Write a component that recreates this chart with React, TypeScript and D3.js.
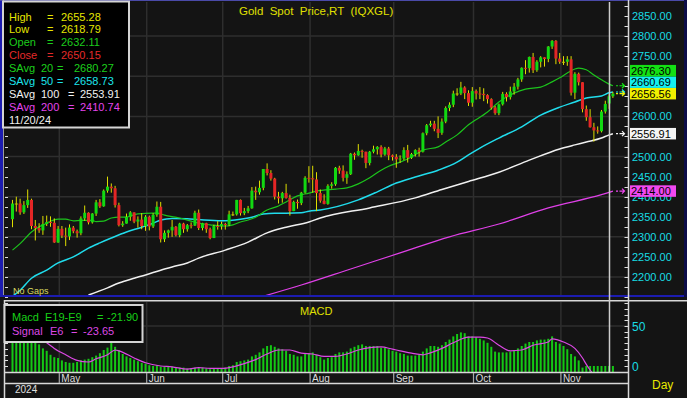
import React, { useEffect, useRef } from "react";
import * as d3 from "d3";

const W = 687;
const H = 398;

// date, open, high, low, close
const bars: [string, number, number, number, number][] = [
  ["2024-04-15", 2344, 2392, 2324, 2383], ["2024-04-16", 2383, 2400, 2363, 2383], ["2024-04-17", 2383, 2395, 2355, 2361],
  ["2024-04-18", 2361, 2389, 2357, 2379], ["2024-04-19", 2379, 2418, 2372, 2392], ["2024-04-22", 2392, 2395, 2319, 2327],
  ["2024-04-23", 2327, 2342, 2291, 2322], ["2024-04-24", 2322, 2334, 2310, 2316], ["2024-04-25", 2316, 2352, 2305, 2332],
  ["2024-04-26", 2332, 2353, 2327, 2337], ["2024-04-29", 2337, 2351, 2325, 2335], ["2024-04-30", 2335, 2346, 2285, 2286],
  ["2024-05-01", 2286, 2327, 2285, 2320], ["2024-05-02", 2320, 2327, 2297, 2303], ["2024-05-03", 2303, 2323, 2277, 2301],
  ["2024-05-06", 2301, 2331, 2292, 2323], ["2024-05-07", 2323, 2327, 2309, 2314], ["2024-05-08", 2314, 2318, 2298, 2309],
  ["2024-05-09", 2309, 2351, 2304, 2346], ["2024-05-10", 2346, 2378, 2340, 2360], ["2024-05-13", 2360, 2361, 2331, 2336],
  ["2024-05-14", 2336, 2359, 2333, 2358], ["2024-05-15", 2358, 2392, 2352, 2386], ["2024-05-16", 2386, 2394, 2372, 2376],
  ["2024-05-17", 2376, 2418, 2375, 2415], ["2024-05-20", 2415, 2450, 2410, 2425], ["2024-05-21", 2425, 2433, 2410, 2421],
  ["2024-05-22", 2421, 2427, 2373, 2379], ["2024-05-23", 2379, 2385, 2326, 2329], ["2024-05-24", 2329, 2339, 2325, 2333],
  ["2024-05-27", 2333, 2358, 2333, 2350], ["2024-05-28", 2350, 2364, 2340, 2361], ["2024-05-29", 2361, 2361, 2334, 2338],
  ["2024-05-30", 2338, 2351, 2323, 2343], ["2024-05-31", 2343, 2359, 2319, 2327], ["2024-06-03", 2327, 2354, 2315, 2350],
  ["2024-06-04", 2350, 2353, 2316, 2326], ["2024-06-05", 2326, 2359, 2322, 2355], ["2024-06-06", 2355, 2388, 2350, 2375],
  ["2024-06-07", 2375, 2387, 2286, 2294], ["2024-06-10", 2294, 2316, 2287, 2310], ["2024-06-11", 2310, 2318, 2298, 2316],
  ["2024-06-12", 2316, 2342, 2300, 2325], ["2024-06-13", 2325, 2327, 2301, 2304], ["2024-06-14", 2304, 2335, 2299, 2333],
  ["2024-06-17", 2333, 2335, 2310, 2319], ["2024-06-18", 2319, 2332, 2313, 2329], ["2024-06-19", 2329, 2336, 2321, 2328],
  ["2024-06-20", 2328, 2365, 2327, 2360], ["2024-06-21", 2360, 2368, 2317, 2322], ["2024-06-24", 2322, 2335, 2316, 2334],
  ["2024-06-25", 2334, 2335, 2310, 2319], ["2024-06-26", 2319, 2323, 2294, 2297], ["2024-06-27", 2297, 2330, 2297, 2327],
  ["2024-06-28", 2327, 2339, 2318, 2326], ["2024-07-01", 2326, 2338, 2318, 2332], ["2024-07-02", 2332, 2335, 2318, 2330],
  ["2024-07-03", 2330, 2365, 2327, 2356], ["2024-07-04", 2356, 2363, 2352, 2356], ["2024-07-05", 2356, 2392, 2353, 2392],
  ["2024-07-08", 2392, 2393, 2353, 2359], ["2024-07-09", 2359, 2372, 2354, 2364], ["2024-07-10", 2364, 2377, 2359, 2371],
  ["2024-07-11", 2371, 2424, 2370, 2415], ["2024-07-12", 2415, 2425, 2392, 2411], ["2024-07-15", 2411, 2440, 2405, 2422],
  ["2024-07-16", 2422, 2469, 2416, 2469], ["2024-07-17", 2469, 2483, 2453, 2459], ["2024-07-18", 2459, 2466, 2440, 2445],
  ["2024-07-19", 2445, 2447, 2393, 2400], ["2024-07-22", 2400, 2412, 2383, 2396], ["2024-07-23", 2396, 2412, 2385, 2409],
  ["2024-07-24", 2409, 2432, 2395, 2397], ["2024-07-25", 2397, 2405, 2353, 2364], ["2024-07-26", 2364, 2390, 2364, 2387],
  ["2024-07-29", 2387, 2393, 2370, 2384], ["2024-07-30", 2384, 2412, 2379, 2410], ["2024-07-31", 2410, 2451, 2408, 2447],
  ["2024-08-01", 2447, 2476, 2435, 2446], ["2024-08-02", 2446, 2477, 2410, 2443], ["2024-08-05", 2443, 2461, 2364, 2409],
  ["2024-08-06", 2409, 2418, 2385, 2390], ["2024-08-07", 2390, 2406, 2381, 2382], ["2024-08-08", 2382, 2431, 2380, 2427],
  ["2024-08-09", 2427, 2436, 2420, 2431], ["2024-08-12", 2431, 2474, 2427, 2472], ["2024-08-13", 2472, 2477, 2457, 2465],
  ["2024-08-14", 2465, 2478, 2438, 2447], ["2024-08-15", 2447, 2463, 2432, 2456], ["2024-08-16", 2456, 2509, 2454, 2507],
  ["2024-08-19", 2507, 2510, 2492, 2503], ["2024-08-20", 2503, 2531, 2502, 2514], ["2024-08-21", 2514, 2517, 2497, 2512],
  ["2024-08-22", 2512, 2512, 2471, 2484], ["2024-08-23", 2484, 2514, 2478, 2512], ["2024-08-26", 2512, 2527, 2508, 2518],
  ["2024-08-27", 2518, 2526, 2505, 2524], ["2024-08-28", 2524, 2528, 2498, 2505], ["2024-08-29", 2505, 2524, 2502, 2520],
  ["2024-08-30", 2520, 2524, 2491, 2503], ["2024-09-02", 2503, 2505, 2490, 2499], ["2024-09-03", 2499, 2506, 2472, 2493],
  ["2024-09-04", 2493, 2503, 2484, 2495], ["2024-09-05", 2495, 2523, 2491, 2516], ["2024-09-06", 2516, 2529, 2485, 2497],
  ["2024-09-09", 2497, 2509, 2494, 2506], ["2024-09-10", 2506, 2518, 2500, 2516], ["2024-09-11", 2516, 2522, 2500, 2512],
  ["2024-09-12", 2512, 2560, 2510, 2558], ["2024-09-13", 2558, 2581, 2553, 2578], ["2024-09-16", 2578, 2589, 2574, 2582],
  ["2024-09-17", 2582, 2589, 2563, 2569], ["2024-09-18", 2569, 2600, 2546, 2559], ["2024-09-19", 2559, 2595, 2554, 2587],
  ["2024-09-20", 2587, 2625, 2583, 2621], ["2024-09-23", 2621, 2635, 2613, 2629], ["2024-09-24", 2629, 2664, 2623, 2657],
  ["2024-09-25", 2657, 2670, 2651, 2657], ["2024-09-26", 2657, 2686, 2653, 2672], ["2024-09-27", 2672, 2675, 2643, 2658],
  ["2024-09-30", 2658, 2665, 2626, 2634], ["2024-10-01", 2634, 2673, 2624, 2663], ["2024-10-02", 2663, 2667, 2642, 2657],
  ["2024-10-03", 2657, 2673, 2643, 2656], ["2024-10-04", 2656, 2670, 2638, 2653], ["2024-10-07", 2653, 2655, 2632, 2643],
  ["2024-10-08", 2643, 2645, 2617, 2622], ["2024-10-09", 2622, 2626, 2604, 2608], ["2024-10-10", 2608, 2632, 2603, 2630],
  ["2024-10-11", 2630, 2661, 2627, 2656], ["2024-10-14", 2656, 2660, 2637, 2648], ["2024-10-15", 2648, 2674, 2642, 2662],
  ["2024-10-16", 2662, 2683, 2654, 2674], ["2024-10-17", 2674, 2696, 2667, 2692], ["2024-10-18", 2692, 2722, 2686, 2721],
  ["2024-10-21", 2721, 2740, 2705, 2720], ["2024-10-22", 2720, 2749, 2709, 2748], ["2024-10-23", 2748, 2758, 2708, 2715],
  ["2024-10-24", 2715, 2740, 2711, 2736], ["2024-10-25", 2736, 2750, 2722, 2747], ["2024-10-28", 2747, 2747, 2724, 2743],
  ["2024-10-29", 2743, 2775, 2735, 2774], ["2024-10-30", 2774, 2790, 2768, 2788], ["2024-10-31", 2788, 2790, 2730, 2744],
  ["2024-11-01", 2744, 2758, 2731, 2736], ["2024-11-04", 2736, 2750, 2728, 2736], ["2024-11-05", 2736, 2750, 2726, 2742],
  ["2024-11-06", 2742, 2750, 2652, 2659], ["2024-11-07", 2659, 2710, 2643, 2706], ["2024-11-08", 2706, 2709, 2677, 2685],
  ["2024-11-11", 2685, 2685, 2610, 2618], ["2024-11-12", 2618, 2627, 2589, 2598], ["2024-11-13", 2598, 2618, 2572, 2573],
  ["2024-11-14", 2573, 2584, 2537, 2565], ["2024-11-15", 2565, 2575, 2557, 2563], ["2024-11-18", 2563, 2616, 2560, 2612],
  ["2024-11-19", 2612, 2639, 2607, 2631], ["2024-11-20", 2632.11, 2655.28, 2618.79, 2650.15], ["2024-11-21", 2650.15, 2661, 2646, 2656.56],
];

// macd histogram, one value per bar
const macd = [
  50, 48, 46, 44, 42, 38, 32, 27, 22, 19,
  14, 11, 10, 7, 5, 4, 4, 5, 7, 8,
  9, 11, 13, 16, 20, 23, 29, 24, 20, 15,
  12, 10, 8, 6, 4, 3, 1, 0, 1, -1,
  -1, -1, -1, -2, -2, -2, -3, -3, -2, -2,
  -2, -3, -4, -3, -3, -3, -2, 0, 1, 5,
  6, 7, 8, 12, 14, 17, 22, 25, 26, 24,
  22, 21, 19, 15, 14, 12, 12, 15, 16, 17,
  14, 11, 8, 10, 11, 15, 17, 17, 18, 22,
  24, 26, 27, 25, 25, 25, 25, 23, 23, 21,
  19, 18, 16, 15, 13, 13, 13, 14, 18, 22,
  25, 25, 24, 26, 30, 33, 37, 40, 42, 41,
  37, 37, 36, 34, 32, 29, 24, 18, 17, 17,
  17, 18, 20, 22, 25, 28, 30, 30, 32, 33,
  33, 34, 37, 30, 28, 25, 21, 15, 12, 7,
  -2, -12, -22, -30, -32, -31, -27, -21.9, -19,
];

const signal: [string, number][] = [
  ["2024-04-15", 46], ["2024-04-19", 42], ["2024-04-24", 34], ["2024-04-26", 29], ["2024-04-30", 22], ["2024-05-03", 14],
  ["2024-05-08", 7], ["2024-05-13", 5], ["2024-05-15", 9], ["2024-05-20", 14], ["2024-05-22", 20], ["2024-05-23", 19],
  ["2024-05-29", 10], ["2024-06-03", 4], ["2024-06-07", 0], ["2024-06-12", -1], ["2024-06-18", -4], ["2024-06-21", -2],
  ["2024-06-26", -3], ["2024-07-01", -3], ["2024-07-04", -1], ["2024-07-09", 3], ["2024-07-12", 8], ["2024-07-17", 15],
  ["2024-07-22", 20], ["2024-07-25", 20], ["2024-07-30", 16], ["2024-08-02", 15], ["2024-08-07", 12], ["2024-08-12", 12],
  ["2024-08-15", 15], ["2024-08-20", 20], ["2024-08-23", 23], ["2024-08-28", 24], ["2024-09-02", 21], ["2024-09-04", 19],
  ["2024-09-09", 16], ["2024-09-12", 14], ["2024-09-13", 15], ["2024-09-19", 22], ["2024-09-24", 29], ["2024-09-30", 36],
  ["2024-10-03", 36], ["2024-10-07", 35], ["2024-10-10", 26], ["2024-10-15", 19], ["2024-10-18", 20], ["2024-10-23", 26],
  ["2024-10-29", 30], ["2024-10-30", 34], ["2024-11-04", 30], ["2024-11-07", 22], ["2024-11-11", 10], ["2024-11-12", 2],
  ["2024-11-13", -5], ["2024-11-14", -11], ["2024-11-15", -16], ["2024-11-18", -20], ["2024-11-19", -22], ["2024-11-20", -23.65],
  ["2024-11-21", -23],
];

const sma20: [string, number][] = [
  ["2024-04-15", 2267], ["2024-04-17", 2283], ["2024-04-22", 2312], ["2024-04-24", 2325], ["2024-04-26", 2334], ["2024-04-29", 2339],
  ["2024-05-01", 2344], ["2024-05-03", 2344], ["2024-05-07", 2340], ["2024-05-09", 2341], ["2024-05-14", 2341], ["2024-05-15", 2338],
  ["2024-05-17", 2339], ["2024-05-21", 2347], ["2024-05-23", 2349], ["2024-05-27", 2349], ["2024-05-28", 2352], ["2024-05-30", 2357],
  ["2024-06-05", 2359], ["2024-06-06", 2359], ["2024-06-10", 2354], ["2024-06-14", 2347], ["2024-06-19", 2339], ["2024-06-21", 2334],
  ["2024-06-26", 2330], ["2024-07-01", 2327], ["2024-07-02", 2327], ["2024-07-04", 2330], ["2024-07-08", 2337], ["2024-07-10", 2342],
  ["2024-07-12", 2349], ["2024-07-17", 2367], ["2024-07-22", 2377], ["2024-07-24", 2387], ["2024-07-29", 2402], ["2024-08-01", 2409],
  ["2024-08-05", 2414], ["2024-08-12", 2419], ["2024-08-15", 2422], ["2024-08-20", 2432], ["2024-08-23", 2447], ["2024-08-28", 2466],
  ["2024-08-30", 2476], ["2024-09-04", 2486], ["2024-09-09", 2499], ["2024-09-12", 2516], ["2024-09-18", 2524], ["2024-09-20", 2536],
  ["2024-09-25", 2554], ["2024-09-30", 2579], ["2024-10-07", 2611], ["2024-10-10", 2636], ["2024-10-16", 2658], ["2024-10-21", 2668],
  ["2024-10-25", 2673], ["2024-10-30", 2686], ["2024-11-01", 2696], ["2024-11-05", 2708], ["2024-11-07", 2718], ["2024-11-08", 2720],
  ["2024-11-12", 2716], ["2024-11-14", 2703], ["2024-11-18", 2691], ["2024-11-20", 2680.27], ["2024-11-21", 2676.3],
];

const sma50: [string, number][] = [
  ["2024-04-15", 2152], ["2024-04-17", 2167], ["2024-04-22", 2197], ["2024-04-26", 2217], ["2024-05-01", 2235], ["2024-05-07", 2250],
  ["2024-05-13", 2272], ["2024-05-16", 2285], ["2024-05-21", 2297], ["2024-05-27", 2312], ["2024-05-31", 2324], ["2024-06-05", 2334],
  ["2024-06-07", 2342], ["2024-06-12", 2346], ["2024-06-18", 2345], ["2024-06-21", 2343], ["2024-07-01", 2340], ["2024-07-08", 2344],
  ["2024-07-11", 2349], ["2024-07-16", 2357], ["2024-07-19", 2359], ["2024-07-24", 2359], ["2024-07-30", 2360], ["2024-08-01", 2364],
  ["2024-08-06", 2367], ["2024-08-20", 2392], ["2024-08-27", 2412], ["2024-09-03", 2434], ["2024-09-10", 2449], ["2024-09-18", 2466],
  ["2024-09-25", 2486], ["2024-09-30", 2504], ["2024-10-03", 2521], ["2024-10-10", 2546], ["2024-10-18", 2574], ["2024-10-25", 2603],
  ["2024-11-01", 2623], ["2024-11-07", 2636], ["2024-11-12", 2646], ["2024-11-18", 2651], ["2024-11-20", 2658.73], ["2024-11-21", 2660.69],
];

const sma100: [string, number][] = [
  ["2024-05-13", 2155], ["2024-05-20", 2173], ["2024-05-23", 2185], ["2024-05-29", 2197], ["2024-06-03", 2205], ["2024-06-07", 2217],
  ["2024-06-12", 2225], ["2024-06-18", 2235], ["2024-06-21", 2247], ["2024-07-02", 2267], ["2024-07-10", 2287], ["2024-07-17", 2310],
  ["2024-07-24", 2324], ["2024-08-01", 2337], ["2024-08-06", 2347], ["2024-08-23", 2372], ["2024-09-10", 2397], ["2024-09-19", 2418],
  ["2024-09-30", 2438], ["2024-10-10", 2461], ["2024-10-22", 2491], ["2024-11-01", 2519], ["2024-11-07", 2529], ["2024-11-12", 2536],
  ["2024-11-18", 2546], ["2024-11-20", 2553.91], ["2024-11-21", 2556.91],
];

const sma200: [string, number][] = [
  ["2024-07-11", 2144], ["2024-07-30", 2180], ["2024-08-16", 2220], ["2024-09-04", 2260], ["2024-09-23", 2300], ["2024-10-10", 2332],
  ["2024-10-29", 2372], ["2024-11-18", 2405], ["2024-11-20", 2410.74], ["2024-11-21", 2414],
];

const priceLabels = [2850, 2800, 2750, 2700, 2650, 2600, 2550, 2500, 2450, 2400, 2350, 2300, 2250, 2200];
const macdLabels = [50, 0];
const months: [string, string][] = [
  ["2024-05-01", "May"], ["2024-06-03", "Jun"], ["2024-07-01", "Jul"], ["2024-08-01", "Aug"],
  ["2024-09-02", "Sep"], ["2024-10-01", "Oct"], ["2024-11-01", "Nov"],
];
const lastValues = [2676.3, 2660.69, 2656.56, 2556.91, 2414.0];
const quoteNames = ["High", "Low", "Open", "Close"];
const quoteValues = ["2655.28", "2618.79", "2632.11", "2650.15"];
const avgPeriods = [20, 50, 100, 200];
const avgValues = ["2680.27", "2658.73", "2553.91", "2410.74"];
const cursorDate = "2024-11-20";

const FONT = "'Liberation Sans', Arial, sans-serif";
const quoteColors = ["#e6e600", "#e6e600", "#1ccc1c", "#e42a2a"];
const avgColors = ["#1cd01c", "#1ce4ec", "#f2f2f2", "#e444ec"];
const lastColors = ["#14e014", "#14f0f0", "#f0f000", "#f4f4f4", "#f048f0"];

export default function App() {
  const ref = useRef<SVGSVGElement>(null);

  useEffect(() => {
    const svg = d3.select(ref.current);
    svg.selectAll("*").remove();

    const dates = bars.map((d) => d[0]);
    const x = d3.scalePoint<string>().domain(dates).range([12.5, 612.9]);
    const y = d3.scaleLinear().domain([2200, 2850]).range([277, 16]);
    const ym = d3.scaleLinear().domain([0, 50]).range([366, 326]);
    const axisX = 628.5;
    const mTop = 302, mBot = 372;

    svg.append("rect").attr("width", W).attr("height", H).attr("fill", "#141414");

    const defs = svg.append("defs");
    defs.append("clipPath").attr("id", "clipMain").append("rect")
      .attr("x", 5).attr("y", 2).attr("width", axisX - 5).attr("height", 293);
    defs.append("clipPath").attr("id", "clipMacd").append("rect")
      .attr("x", 5).attr("y", mTop).attr("width", axisX - 5).attr("height", mBot - mTop);

    // frame of the price pane
    svg.append("rect").attr("x", 0).attr("y", 0).attr("width", 3).attr("height", 297).attr("fill", "#1c1cb0");
    svg.append("rect").attr("x", 0).attr("y", 295).attr("width", W).attr("height", 2).attr("fill", "#1c1cb0");
    svg.append("rect").attr("x", 0).attr("y", 0).attr("width", W).attr("height", 1).attr("fill", "#4a4aa8");
    svg.append("rect").attr("x", 684).attr("y", 0).attr("width", 3).attr("height", 297).attr("fill", "#0c0c48");
    svg.append("line").attr("x1", 3.5).attr("x2", 3.5).attr("y1", 0).attr("y2", 295).attr("stroke", "#9a9a9a");

    // grid
    const grid = svg.append("g").attr("stroke", "#2e2e2e").attr("stroke-width", 1.5);
    [2200, 2300, 2400, 2500, 2600, 2700, 2800].forEach((v) => {
      grid.append("line").attr("x1", 5).attr("x2", axisX).attr("y1", y(v)).attr("y2", y(v));
    });
    grid.append("line").attr("x1", 5).attr("x2", axisX).attr("y1", ym(50)).attr("y2", ym(50));
    months.forEach(([d]) => {
      const gx = (x(d) as number) + 1.2;
      grid.append("line").attr("x1", gx).attr("x2", gx).attr("y1", 2).attr("y2", 295);
      grid.append("line").attr("x1", gx).attr("x2", gx).attr("y1", mTop).attr("y2", mBot);
    });

    // left and right minor ticks
    const ticks = svg.append("g").attr("stroke", "#e0e0e0").attr("stroke-width", 1);
    d3.range(2150, 2876, 25).forEach((v) => {
      const ty = Math.round(y(v)) + 0.5;
      ticks.append("line").attr("x1", 5).attr("x2", 8).attr("y1", ty).attr("y2", ty);
      ticks.append("line").attr("x1", axisX - 4).attr("x2", axisX).attr("y1", ty).attr("y2", ty);
    });
    d3.range(-1, 12).map((k) => (k * 50) / 7).forEach((v) => {
      const ty = Math.round(ym(v)) + 0.5;
      if (ty < mTop || ty > mBot) return;
      ticks.append("line").attr("x1", 5).attr("x2", 8).attr("y1", ty).attr("y2", ty);
      ticks.append("line").attr("x1", axisX - 4).attr("x2", axisX).attr("y1", ty).attr("y2", ty);
    });

    // stacked boxes for the last values (bottom up, pushed upward on overlap)
    const boxes = lastValues.map((v, i) => ({ v, c: lastColors[i], cy: y(v), by: 0 }))
      .sort((a, b) => b.cy - a.cy);
    let prevTop = Infinity;
    boxes.forEach((b) => {
      let cy = b.cy;
      if (cy + 5.75 > prevTop) cy = prevTop - 5.75;
      prevTop = cy - 5.75;
      b.by = cy;
    });
    const covered = (ly: number) => {
      const lo = ly - 4, hi = ly + 4;
      let cov = 0;
      boxes.forEach((b) => {
        cov += Math.max(0, Math.min(hi, b.by + 5.75) - Math.max(lo, b.by - 5.75));
      });
      return cov / 8 > 0.75;
    };

    // price axis labels (the ones hidden behind value boxes are left out)
    svg.append("g").selectAll("text").data(priceLabels.filter((v) => !covered(y(v)))).enter().append("text")
      .attr("x", 632).attr("y", (d) => y(d) + 4)
      .attr("font-family", FONT).attr("font-size", 11).attr("fill", "#18dce4")
      .text((d) => d.toFixed(2));

    // moving averages
    const maLine = d3.line<[string, number]>().x((d) => x(d[0]) as number).y((d) => y(d[1])).curve(d3.curveMonotoneX);
    const maG = svg.append("g").attr("clip-path", "url(#clipMain)").attr("fill", "none");
    maG.append("path").datum(sma200).attr("d", maLine).attr("stroke", "#e040e8").attr("stroke-width", 1.2);
    maG.append("path").datum(sma100).attr("d", maLine).attr("stroke", "#f0f0f0").attr("stroke-width", 1.5);
    maG.append("path").datum(sma50).attr("d", maLine).attr("stroke", "#20dcec").attr("stroke-width", 1.5);
    maG.append("path").datum(sma20).attr("d", maLine).attr("stroke", "#1cc41c").attr("stroke-width", 1.2);

    // candles
    const cg = svg.append("g").attr("clip-path", "url(#clipMain)");
    cg.selectAll("line.wick").data(bars).enter().append("line")
      .attr("class", "wick")
      .attr("x1", (d) => x(d[0]) as number).attr("x2", (d) => x(d[0]) as number)
      .attr("y1", (d) => y(d[2])).attr("y2", (d) => y(d[3]))
      .attr("stroke", "#dede00").attr("stroke-width", 1);
    cg.selectAll("rect.body").data(bars).enter().append("rect")
      .attr("class", "body")
      .attr("x", (d) => (x(d[0]) as number) - 1.5).attr("width", 3)
      .attr("y", (d) => y(Math.max(d[1], d[4])))
      .attr("height", (d) => Math.max(1, Math.abs(y(d[1]) - y(d[4]))))
      .attr("fill", (d) => (d[4] > d[1] ? "#12d812" : d[4] < d[1] ? "#e42626" : "#c8c800"));

    // macd histogram and signal
    const floor = ym.invert(mBot);
    const mg = svg.append("g").attr("clip-path", "url(#clipMacd)");
    mg.selectAll("rect").data(bars).enter().append("rect")
      .attr("x", (d) => (x(d[0]) as number) - 1).attr("width", 2)
      .attr("y", (d, i) => (macd[i] > floor ? ym(macd[i]) : ym(0)))
      .attr("height", (d, i) => mBot - (macd[i] > floor ? ym(macd[i]) : ym(0)))
      .attr("fill", "#14c814");
    const sigLine = d3.line<[string, number]>().x((d) => x(d[0]) as number).y((d) => ym(d[1])).curve(d3.curveMonotoneX);
    mg.append("path").datum(signal).attr("d", sigLine).attr("fill", "none").attr("stroke", "#dc48e4").attr("stroke-width", 1.2);

    svg.append("g").selectAll("text").data(macdLabels).enter().append("text")
      .attr("x", 632).attr("y", (d) => ym(d) + 5)
      .attr("font-family", FONT).attr("font-size", 12).attr("fill", "#18dce4")
      .text((d) => String(d));

    // pane borders, date axis
    const light = svg.append("g").attr("stroke", "#d8d8d8").attr("stroke-width", 1.5);
    light.append("line").attr("x1", 4).attr("x2", W).attr("y1", 300.8).attr("y2", 300.8);
    light.append("line").attr("x1", 4.5).attr("x2", 4.5).attr("y1", 300).attr("y2", H);
    light.append("line").attr("x1", 4).attr("x2", axisX).attr("y1", 372.5).attr("y2", 372.5);
    light.append("line").attr("x1", 4).attr("x2", axisX).attr("y1", 383.5).attr("y2", 383.5);
    light.append("line").attr("x1", axisX).attr("x2", axisX).attr("y1", 0).attr("y2", H);
    months.forEach(([d, label]) => {
      const gx = (x(d) as number) + 1.2;
      svg.append("line").attr("x1", gx).attr("x2", gx).attr("y1", 373).attr("y2", 383)
        .attr("stroke", "#a8a8a8").attr("stroke-width", 1.2);
      svg.append("text").attr("x", gx + 2).attr("y", 381.5)
        .attr("font-family", FONT).attr("font-size", 10).attr("fill", "#dcdcdc").text(label);
    });
    svg.append("text").attr("x", 15).attr("y", 393).attr("font-family", FONT).attr("font-size", 10)
      .attr("fill", "#e0e0e0").text("2024");
    svg.append("text").attr("x", 652).attr("y", 389).attr("font-family", FONT).attr("font-size", 12)
      .attr("fill", "#e8e800").text("Day");

    // cursor
    const cx = (x(cursorDate) as number) + 0.4;
    svg.append("line").attr("x1", cx).attr("x2", cx).attr("y1", 2).attr("y2", mBot)
      .attr("stroke", "#cccccc").attr("stroke-width", 1.5);

    // last value markers on the price axis
    lastValues.forEach((v, i) => {
      const ay = y(v);
      svg.append("path")
        .attr("d", `M616,${ay}h2M619.5,${ay}h4.5M622,${ay - 2.5}l2.5,2.5l-2.5,2.5`)
        .attr("fill", "none").attr("stroke", lastColors[i]).attr("stroke-width", 1.2);
    });
    boxes.forEach((b) => {
      svg.append("rect").attr("x", 630).attr("y", b.by - 5.75).attr("width", 46).attr("height", 11.5).attr("fill", b.c);
      svg.append("text").attr("x", 631).attr("y", b.by + 4).attr("font-family", FONT).attr("font-size", 11)
        .attr("fill", "#000").text(b.v.toFixed(2));
    });

    // titles
    svg.append("text").attr("x", 239).attr("y", 15).attr("font-family", FONT).attr("font-size", 11.5)
      .attr("fill", "#e0e000").attr("xml:space", "preserve").style("white-space", "pre")
      .text("Gold  Spot  Price,RT  (IQXGL)");
    svg.append("text").attr("x", 300).attr("y", 315).attr("font-family", FONT).attr("font-size", 11)
      .attr("fill", "#e0e000").text("MACD");
    svg.append("text").attr("x", 13).attr("y", 294).attr("font-family", FONT).attr("font-size", 9)
      .attr("fill", "#d8d860").text("No Gaps");

    // quote legend
    svg.append("rect").attr("x", 3).attr("y", 1.5).attr("width", 126).attr("height", 126)
      .attr("fill", "#000").attr("stroke", "#d4d4d4").attr("stroke-width", 2);
    const lg = svg.append("g").attr("font-family", FONT).attr("font-size", 11);
    const row = (k: number) => 20.5 + k * 12.9;
    quoteNames.forEach((n, k) => {
      const t = lg.append("g").attr("fill", quoteColors[k]);
      t.append("text").attr("x", 9).attr("y", row(k)).text(n);
      t.append("text").attr("x", 47).attr("y", row(k)).text("=");
      t.append("text").attr("x", 61).attr("y", row(k)).text(quoteValues[k]);
    });
    avgPeriods.forEach((p, j) => {
      const k = j + 4;
      const wide = p >= 100;
      const t = lg.append("g").attr("fill", avgColors[j]);
      t.append("text").attr("x", 9).attr("y", row(k)).text("SAvg");
      t.append("text").attr("x", 41).attr("y", row(k)).text(String(p));
      t.append("text").attr("x", wide ? 68 : 57).attr("y", row(k)).text("=");
      t.append("text").attr("x", wide ? 80 : 74).attr("y", row(k)).text(avgValues[j]);
    });
    lg.append("text").attr("x", 9).attr("y", row(8)).attr("fill", "#f0f0f0").text("11/20/24");

    // macd legend
    svg.append("rect").attr("x", 4.5).attr("y", 305).attr("width", 138).attr("height", 37)
      .attr("fill", "#000").attr("stroke", "#d4d4d4").attr("stroke-width", 2);
    const ml = svg.append("g").attr("font-family", FONT).attr("font-size", 11);
    const m1 = ml.append("g").attr("fill", "#18d018");
    m1.append("text").attr("x", 12).attr("y", 320.5).text("Macd");
    m1.append("text").attr("x", 45).attr("y", 320.5).text("E19-E9");
    m1.append("text").attr("x", 97).attr("y", 320.5).text("=");
    m1.append("text").attr("x", 107).attr("y", 320.5).text(macd[dates.indexOf(cursorDate)].toFixed(2));
    const m2 = ml.append("g").attr("fill", "#dc48e4");
    m2.append("text").attr("x", 12).attr("y", 334.5).text("Signal");
    m2.append("text").attr("x", 50).attr("y", 334.5).text("E6");
    m2.append("text").attr("x", 71).attr("y", 334.5).text("=");
    m2.append("text").attr("x", 83).attr("y", 334.5).text("-23.65");
  }, []);

  return (
    <svg ref={ref} width={W} height={H}
      style={{ position: "absolute", left: 0, top: 0, display: "block" }} />
  );
}
